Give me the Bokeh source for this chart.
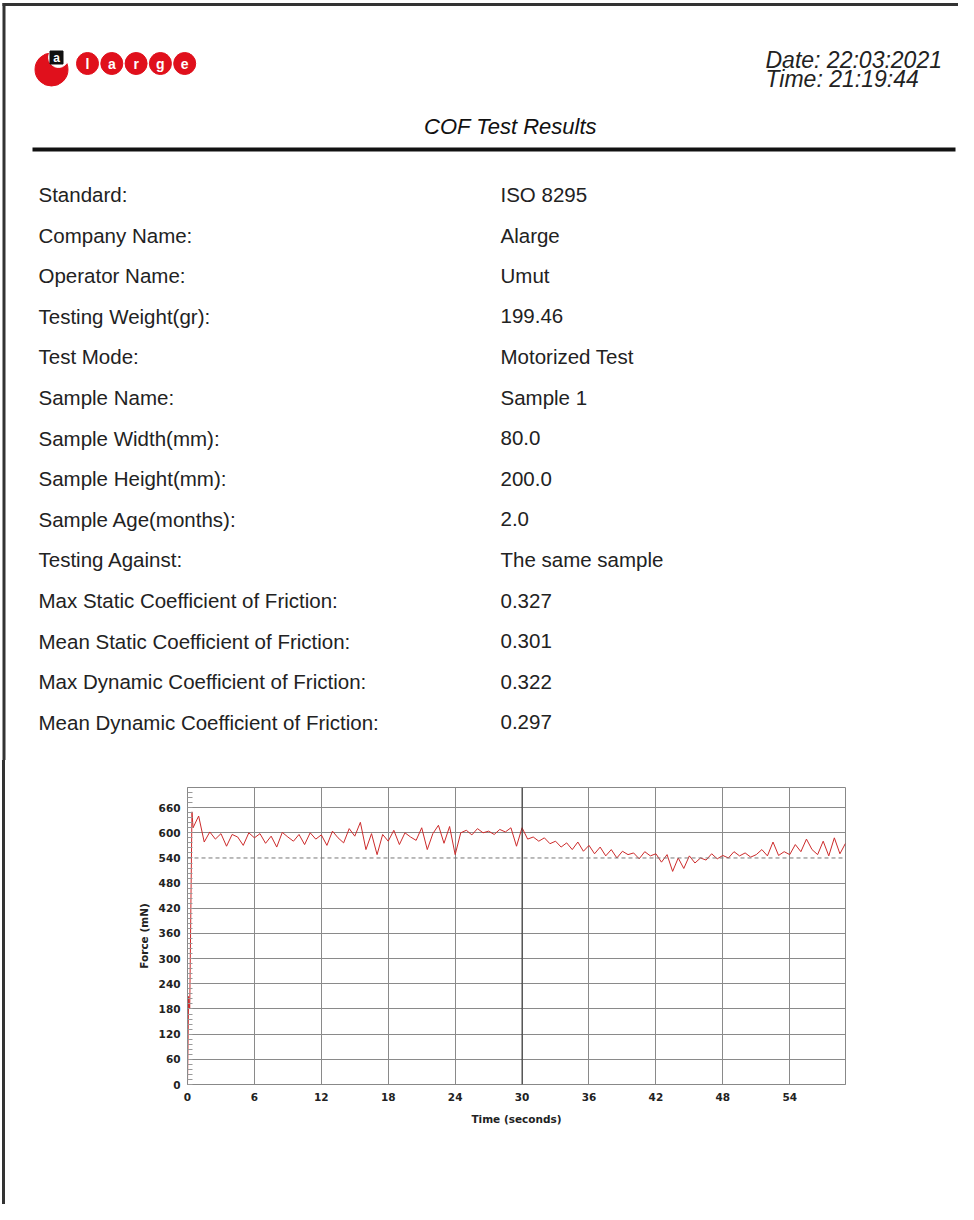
from bokeh.plotting import figure
from bokeh.models import Range1d, FixedTicker, Span, Spacer, ColumnDataSource
from bokeh.layouts import column, row
from bokeh.embed import file_html
from bokeh.resources import INLINE
from bokeh.core.properties import value

# ---------------- data ----------------
report_date = "Date: 22:03:2021"
report_time = "Time: 21:19:44"
report_title = "COF Test Results"

field_labels = [
    "Standard:", "Company Name:", "Operator Name:", "Testing Weight(gr):",
    "Test Mode:", "Sample Name:", "Sample Width(mm):", "Sample Height(mm):",
    "Sample Age(months):", "Testing Against:",
    "Max Static Coefficient of Friction:", "Mean Static Coefficient of Friction:",
    "Max Dynamic Coefficient of Friction:", "Mean Dynamic Coefficient of Friction:",
]
field_values = [
    "ISO 8295", "Alarge", "Umut", "199.46", "Motorized Test", "Sample 1",
    "80.0", "200.0", "2.0", "The same sample", "0.327", "0.301", "0.322", "0.297",
]

logo_letters = ["l", "a", "r", "g", "e"]

time_s = [
    0.0, 0.1, 0.2, 0.3, 0.4,
    0.5, 1.0, 1.5, 2.0, 2.5, 3.0, 3.5, 4.0, 4.5, 5.0, 5.5, 6.0,
    6.5, 7.0, 7.5, 8.0, 8.5, 9.0, 9.5, 10.0, 10.5, 11.0, 11.5, 12.0,
    12.5, 13.0, 13.5, 14.0, 14.5, 15.0, 15.5, 16.0, 16.5, 17.0, 17.5, 18.0,
    18.5, 19.0, 19.5, 20.0, 20.5, 21.0, 21.5, 22.0, 22.5, 23.0, 23.5, 24.0,
    24.5, 25.0, 25.5, 26.0, 26.5, 27.0, 27.5, 28.0, 28.5, 29.0, 29.5, 30.0,
    30.5, 31.0, 31.5, 32.0, 32.5, 33.0, 33.5, 34.0, 34.5, 35.0, 35.5, 36.0,
    36.5, 37.0, 37.5, 38.0, 38.5, 39.0, 39.5, 40.0, 40.5, 41.0, 41.5, 42.0,
    42.5, 43.0, 43.5, 44.0, 44.5, 45.0, 45.5, 46.0, 46.5, 47.0, 47.5, 48.0,
    48.5, 49.0, 49.5, 50.0, 50.5, 51.0, 51.5, 52.0, 52.5, 53.0, 53.5, 54.0,
    54.5, 55.0, 55.5, 56.0, 56.5, 57.0, 57.5, 58.0, 58.5, 59.0,
]
force_mn = [
    0, 210, 180, 420, 650,
    612, 640, 578, 602, 585, 598, 568, 596, 590, 570, 600, 588,
    598, 575, 592, 566, 601, 590, 580, 596, 572, 600, 585, 595,
    570, 604, 588, 576, 610, 592, 625, 560, 598, 548, 596, 580,
    606, 572, 600, 590, 582, 612, 560, 598, 618, 575, 615, 548,
    600, 606, 595, 610, 600, 604, 596, 608, 602, 612, 568, 612,
    585, 590, 580, 588, 574, 580, 566, 576, 560, 578, 556, 570,
    550, 566, 545, 560, 540, 556, 548, 552, 538, 555, 545, 550,
    530, 548, 508, 540, 515, 545, 528, 540, 535, 550, 538, 546,
    540, 555, 545, 552, 542, 548, 560, 545, 578, 546, 555, 548,
    572, 555, 585, 560, 548, 580, 545, 588, 550, 575,
]

x_ticks = [0, 6, 12, 18, 24, 30, 36, 42, 48, 54]
y_ticks = [0, 60, 120, 180, 240, 300, 360, 420, 480, 540, 600, 660]
y_minor = [v for v in range(0, 708, 12)]
x_max = 59
y_max = 708

FONT = value("Liberation Sans")

# ---------------- page header / table ----------------
PW, PH = 958, 760
page = figure(width=PW, height=PH, x_range=Range1d(0, PW), y_range=Range1d(PH, 0),
              output_backend="svg", toolbar_location=None, min_border=0)
page.axis.visible = False
page.grid.visible = False
page.outline_line_color = None
page.background_fill_color = "white"
page.border_fill_color = "white"

# page border
page.line([2, PW], [4, 4], line_color="#333333", line_width=3)
page.line([3.5, 3.5], [2.5, PH], line_color="#333333", line_width=3)

# logo
page.scatter([51], [69], size=33, marker="circle", color="#e0101c")
page.scatter([58], [57], size=20, marker="circle", color="white")
page.scatter([56], [57], size=13, marker="square", color="#111111")
page.text([56], [57], text=["a"], text_color="white", text_font=FONT,
          text_font_size=value("12px"), text_font_style="bold",
          text_align="center", text_baseline="middle")
lx = [87 + i * 24.3 for i in range(len(logo_letters))]
ly = [63] * len(logo_letters)
page.scatter(lx, ly, size=22, marker="circle", color="#e0101c")
page.text(lx, ly, text=logo_letters, text_color="white", text_font=FONT,
          text_font_size=value("14px"), text_font_style="bold",
          text_align="center", text_baseline="middle")

# date / time
page.text([765], [59], text=[report_date], text_font=FONT,
          text_font_size=value("23px"), text_font_style="italic", text_color="#222222",
          text_align="left", text_baseline="alphabetic")
page.text([765], [78], text=[report_time], text_font=FONT,
          text_font_size=value("23px"), text_font_style="italic", text_color="#222222",
          text_align="left", text_baseline="alphabetic")

# title + rule
page.text([510], [126], text=[report_title], text_font=FONT,
          text_font_size=value("22px"), text_font_style="italic", text_color="#111111",
          text_align="center", text_baseline="alphabetic")
page.line([32, 955], [149, 149], line_color="#111111", line_width=4)

# table
row_y = [194 + i * 40.6 for i in range(len(field_labels))]
tbl = ColumnDataSource(dict(xl=[38] * len(field_labels), xv=[500] * len(field_values),
                            y=row_y, lab=field_labels, val=field_values))
page.text(x="xl", y="y", text="lab", source=tbl, text_font=FONT,
          text_font_size=value("20.5px"), text_color="#222222",
          text_align="left", text_baseline="alphabetic")
page.text(x="xv", y="y", text="val", source=tbl, text_font=FONT,
          text_font_size=value("20.5px"), text_color="#222222",
          text_align="left", text_baseline="alphabetic")

# ---------------- chart ----------------
CW, CH = 953, 444
FRAME_TOP = 787 - PH
FRAME_H = 297
chart = figure(width=CW, height=CH, x_range=Range1d(0, x_max), y_range=Range1d(0, y_max),
               output_backend="svg", toolbar_location=None,
               min_border_left=182, min_border_right=CW - 182 - 658,
               min_border_top=FRAME_TOP, min_border_bottom=CH - FRAME_TOP - FRAME_H)
chart.background_fill_color = "white"
chart.border_fill_color = "white"
chart.outline_line_color = "#888888"

chart.xaxis.ticker = FixedTicker(ticks=x_ticks)
chart.yaxis.ticker = FixedTicker(ticks=y_ticks, minor_ticks=y_minor)
chart.xgrid.ticker = FixedTicker(ticks=x_ticks)
chart.ygrid.ticker = FixedTicker(ticks=[t for t in y_ticks if t != 540])
for g in (chart.xgrid, chart.ygrid):
    g.grid_line_color = "#8a8a8a"
    g.grid_line_width = 1

chart.add_layout(Span(location=540, dimension="width", line_color="#777777",
                      line_width=1, line_dash="4 3"))
chart.add_layout(Span(location=30, dimension="height", line_color="#333333", line_width=1))

for ax in (chart.xaxis[0], chart.yaxis[0]):
    ax.axis_line_color = "#888888"
    ax.major_tick_in = 0
    ax.major_tick_out = 0
    ax.major_label_text_font = "DejaVu Sans"
    ax.major_label_text_font_size = "10.5px"
    ax.major_label_text_font_style = "bold"
    ax.major_label_text_color = "#222222"
    ax.axis_label_text_font = "DejaVu Sans"
    ax.axis_label_text_font_size = "10.5px"
    ax.axis_label_text_font_style = "bold"
    ax.axis_label_text_color = "#222222"

chart.xaxis.minor_tick_in = 0
chart.xaxis.minor_tick_out = 0
chart.yaxis.minor_tick_in = 5
chart.yaxis.minor_tick_out = 0
chart.yaxis.minor_tick_line_color = "#999999"

chart.xaxis.axis_label = "Time (seconds)"
chart.yaxis.axis_label = "Force (mN)"
chart.xaxis.major_label_standoff = 8
chart.yaxis.major_label_standoff = 7
chart.xaxis.axis_label_standoff = 9
chart.yaxis.axis_label_standoff = 6

chart.line(time_s, force_mn, line_color="#cc2b2b", line_width=1)

gap = Spacer(width=2, height=CH)
border = Spacer(width=3, height=CH, styles={"background-color": "#333333"})
layout = column(page, row(gap, border, chart, spacing=0), spacing=0)

open("out.html", "w").write(file_html(layout, INLINE))
